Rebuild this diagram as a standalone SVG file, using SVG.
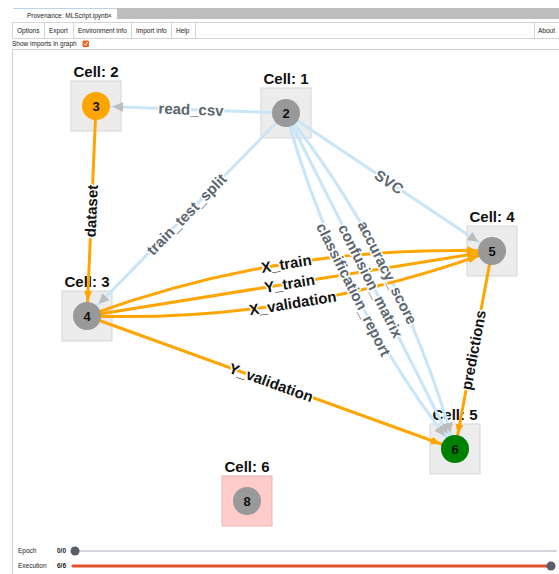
<svg xmlns="http://www.w3.org/2000/svg" width="559" height="574" viewBox="0 0 559 574">
<style>
.ui{font-family:"Liberation Sans",Arial,sans-serif;font-size:6.5px;fill:#222}
.uib{font-family:"Liberation Sans",Arial,sans-serif;font-size:6.5px;font-weight:bold;fill:#222}
.box{fill:#ececec;stroke:#d6d6d6;stroke-width:1}
.box6{fill:#ffcccc;stroke:#e8b8b8;stroke-width:1}
.cell{font-family:"Liberation Sans",Arial,sans-serif;font-size:15px;font-weight:bold;fill:#111;text-anchor:middle}
.num{font-family:"Liberation Sans",Arial,sans-serif;font-size:13px;font-weight:bold;fill:#111;text-anchor:middle}
.blue{fill:none;stroke:#c9e6f8;stroke-width:3;marker-end:url(#ag)}
.org{fill:none;stroke:#ffa500;stroke-width:3;marker-end:url(#ao)}
.lb{font-family:"Liberation Sans",Arial,sans-serif;font-size:15px;font-weight:bold;text-anchor:middle;stroke:#fff;stroke-width:3;stroke-linejoin:round;paint-order:stroke}
.lg{fill:#5c6670}
.lk{fill:#111}
</style>
<defs>
<marker id="ag" viewBox="0 -5 10 10" refX="27" refY="0" markerUnits="userSpaceOnUse" markerWidth="10" markerHeight="10" orient="auto"><path d="M0,-5L10,0L0,5Z" fill="#bdbdbd"/></marker>
<marker id="ao" viewBox="0 -4 10 8" refX="25" refY="0" markerUnits="userSpaceOnUse" markerWidth="10" markerHeight="8" orient="auto"><path d="M0,-4L10,0L0,4Z" fill="#ffa500"/></marker>
</defs>
<rect x="0" y="0" width="559" height="574" fill="#fff"/>
<g id="chrome">
<rect x="117" y="8" width="442" height="11" fill="#bdbdbd"/>
<rect x="13" y="8" width="104" height="14" fill="#fff"/>
<line x1="13" y1="8.5" x2="117" y2="8.5" stroke="#b9d3ea" stroke-width="1"/>
<text class="ui" x="27" y="17.5" font-size="6.1">Provenance: MLScript.ipynb</text>
<text class="ui" x="108" y="17.5" font-size="7">×</text>
<rect x="12.5" y="22.5" width="547" height="16" fill="#fff" stroke="#d4d4d4"/>
<g stroke="#d4d4d4"><line x1="44.5" y1="22.5" x2="44.5" y2="38.5"/><line x1="73.5" y1="22.5" x2="73.5" y2="38.5"/><line x1="131.5" y1="22.5" x2="131.5" y2="38.5"/><line x1="171.5" y1="22.5" x2="171.5" y2="38.5"/><line x1="195.5" y1="22.5" x2="195.5" y2="38.5"/><line x1="534.5" y1="22.5" x2="534.5" y2="38.5"/></g>
<text class="ui" x="17" y="33">Options</text>
<text class="ui" x="49" y="33">Export</text>
<text class="ui" x="78" y="33">Environment info</text>
<text class="ui" x="136" y="33">Import info</text>
<text class="ui" x="176" y="33">Help</text>
<text class="ui" x="538" y="33">About</text>
<text class="ui" x="12" y="46">Show imports in graph</text>
<rect x="82.5" y="40.5" width="6.5" height="6.5" rx="1" fill="#f0642a"/>
<path d="M84,43.8L85.4,45.2L87.6,42" fill="none" stroke="#fff" stroke-width="1"/>
<line x1="12" y1="49.5" x2="559" y2="49.5" stroke="#cfcfcf"/>
<line x1="12.5" y1="49.5" x2="12.5" y2="574" stroke="#cfcfcf"/>
</g>
<g id="cell-1"><rect class="box" x="261" y="88" width="50" height="50"/><text class="cell" x="286" y="84">Cell: 1</text></g>
<g id="cell-2"><rect class="box" x="71" y="81" width="50" height="50"/><text class="cell" x="96" y="77">Cell: 2</text></g>
<g id="cell-3"><rect class="box" x="62" y="291" width="50" height="50"/><text class="cell" x="87" y="287">Cell: 3</text></g>
<g id="cell-4"><rect class="box" x="467" y="226" width="50" height="50"/><text class="cell" x="492" y="222">Cell: 4</text></g>
<g id="cell-5"><rect class="box" x="430" y="424" width="50" height="50"/><text class="cell" x="455" y="420">Cell: 5</text></g>
<g id="cell-6"><rect class="box6" x="222" y="476" width="50" height="50"/><text class="cell" x="247" y="472">Cell: 6</text></g>
<g id="connectors">
<path class="blue" d="M286,113L96,106"/>
<path class="blue" d="M286,113L87,316"/>
<path class="blue" d="M286,113L492,251"/>
<path class="blue" d="M286,113Q336.5,298 455,449"/>
<path class="blue" d="M286,113L455,449"/>
<path class="blue" d="M286,113Q404.5,264 455,449"/>
<path class="org" d="M96,106L87,316"/>
<path class="org" d="M87,316Q283.2,244 492,251"/>
<path class="org" d="M87,316L492,251"/>
<path class="org" d="M87,316Q295.8,323 492,251"/>
<path class="org" d="M87,316L455,449"/>
<path class="org" d="M492,251L455,449"/>
<g class="lb">
<text class="lg" transform="translate(191,109.5) rotate(2.1)" dy="0.35em">read_csv</text>
<text class="lg" transform="translate(186.5,214.5) rotate(-45.6)" dy="0.35em">train_test_split</text>
<text class="lg" transform="translate(389,182) rotate(33.8)" dy="0.35em">SVC</text>
<text class="lg" transform="translate(353.5,289.5) rotate(63.3)" dy="0.35em">classification_report</text>
<text class="lg" transform="translate(370.5,281) rotate(63.3)" dy="0.35em">confusion_matrix</text>
<text class="lg" transform="translate(387.5,272.5) rotate(63.3)" dy="0.35em">accuracy_score</text>
<text class="lk" transform="translate(91.5,211) rotate(-87.5)" dy="0.35em">dataset</text>
<text class="lk" transform="translate(286.3,263.7) rotate(-9.1)" dy="0.35em">X_train</text>
<text class="lk" transform="translate(289.5,283.5) rotate(-9.1)" dy="0.35em">Y_train</text>
<text class="lk" transform="translate(292.7,303.2) rotate(-9.1)" dy="0.35em">X_validation</text>
<text class="lk" transform="translate(271,382.5) rotate(19.9)" dy="0.35em">Y_validation</text>
<text class="lk" transform="translate(473.5,350) rotate(-79.4)" dy="0.35em">predictions</text>
</g>
</g>
<g id="node-2"><circle cx="286" cy="113" r="14" fill="#999"/><text class="num" x="286" y="117.5">2</text></g>
<g id="node-3"><circle cx="96" cy="106" r="14" fill="#ffa500"/><text class="num" x="96" y="110.5">3</text></g>
<g id="node-4"><circle cx="87" cy="316" r="14" fill="#999"/><text class="num" x="87" y="320.5">4</text></g>
<g id="node-5"><circle cx="492" cy="251" r="14" fill="#999"/><text class="num" x="492" y="255.5">5</text></g>
<g id="node-6"><circle cx="455" cy="449" r="14" fill="#008000"/><text class="num" x="455" y="453.5">6</text></g>
<g id="node-8"><circle cx="247" cy="501" r="14" fill="#999"/><text class="num" x="247" y="505.5">8</text></g>
<g id="sliders">
<text class="ui" x="18" y="553">Epoch</text>
<text class="uib" x="57" y="553">0/0</text>
<line x1="75" y1="551" x2="556" y2="551" stroke="#d3d3dc" stroke-width="2" stroke-linecap="round"/>
<circle cx="75" cy="551" r="4.5" fill="#5b5d6b"/>
<text class="ui" x="18" y="568">Execution</text>
<text class="uib" x="57" y="568">6/6</text>
<line x1="73" y1="566" x2="551" y2="566" stroke="#e2522a" stroke-width="3" stroke-linecap="round"/>
<circle cx="551" cy="566" r="4.5" fill="#5b5d6b"/>
</g>
</svg>
